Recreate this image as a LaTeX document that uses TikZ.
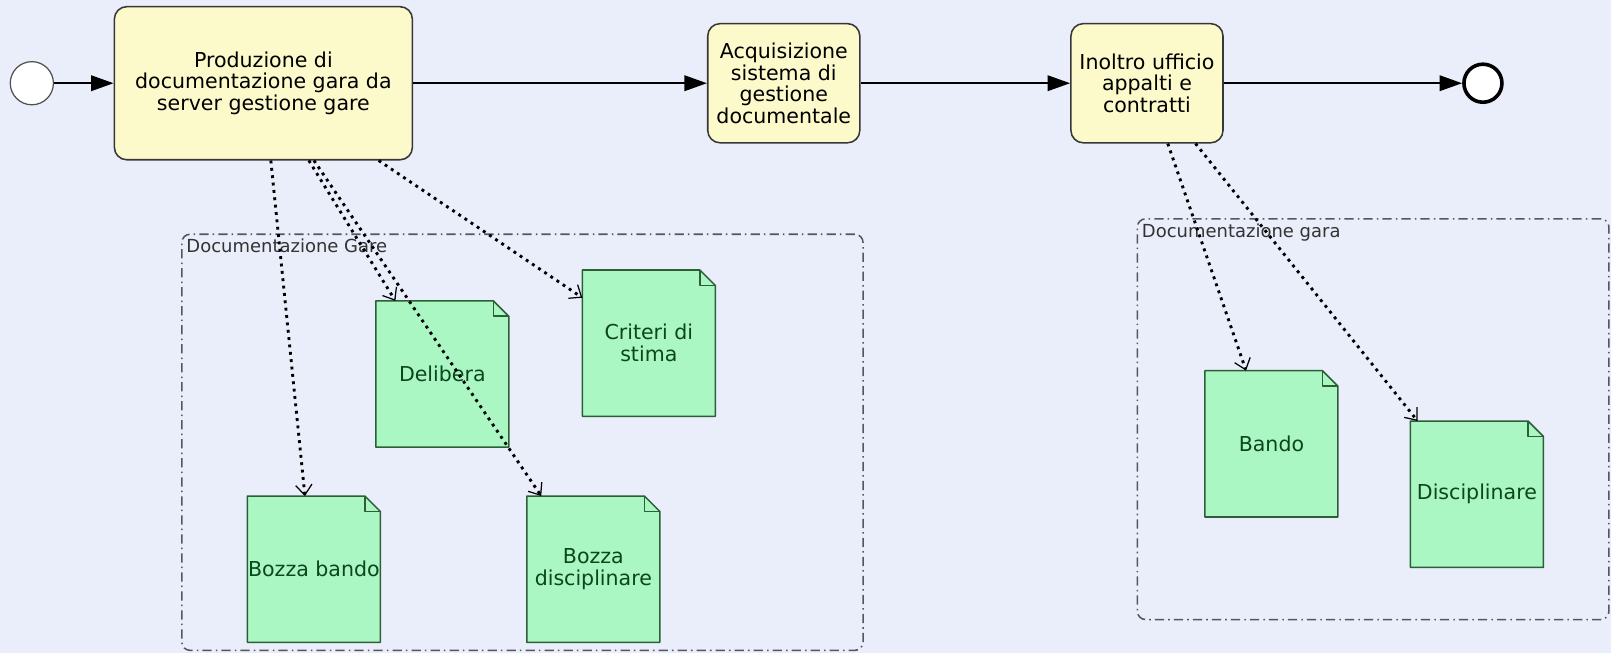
\documentclass[tikz,border=0pt]{standalone}
\usepackage{fontspec}
\setmainfont{DejaVu Sans}
\usepackage{tikz}
\usetikzlibrary{arrows.meta,positioning,backgrounds}

\definecolor{bgcol}{RGB}{233,238,250}
\definecolor{taskfill}{RGB}{252,250,202}
\definecolor{taskline}{RGB}{55,55,55}
\definecolor{docfill}{RGB}{170,247,196}
\definecolor{docline}{RGB}{45,95,55}
\definecolor{doctext}{RGB}{12,70,28}
\definecolor{groupline}{RGB}{85,85,95}
\definecolor{evline}{RGB}{80,80,80}

\newcommand{\taskfont}{\fontsize{20}{21}\selectfont}
\newcommand{\docfont}{\fontsize{20}{21.5}\selectfont}
\newcommand{\groupfont}{\fontsize{17.5}{19}\selectfont}

\begin{document}
\begin{tikzpicture}[x=1pt,
            y=-1pt,
            >={Triangle[length=22pt,width=15pt]},
            node distance=58pt,
            flow/.style={->, line width=2.3pt, draw=black},
            assoc/.style={-{Straight Barb[length=10pt,width=16pt,line width=1.2pt]},
                          line width=2.8pt, dash pattern=on 2.8pt off 4.4pt, draw=black},
            event/.style={circle, draw=evline, line width=1.2pt, fill=white,
                          minimum size=42pt, inner sep=0pt},
            endevent/.style={event, draw=black, line width=3.5pt, minimum size=37pt},
            task/.style={rectangle, rounded corners=12pt, draw=taskline, line width=1.5pt,
                         fill=taskfill, align=center, font=\taskfont, inner sep=0pt,
                         minimum width=148pt, minimum height=116pt},
            doc/.style={minimum width=129pt, minimum height=142pt, inner sep=0pt,
                        align=center, text=doctext, font=\docfont},
            docshape/.style={draw=docline, fill=docfill, line width=1.5pt, line join=round},
            group/.style={draw=groupline, line width=1.5pt, rounded corners=8pt,
                          dash pattern=on 9pt off 4pt on 1.5pt off 4pt, inner sep=0pt},
            grouplabel/.style={anchor=north west, inner sep=1pt, text=black!80, font=\groupfont}]

        \useasboundingbox (0,0) rectangle (1568,636);

        % process flow
        \node[event]                        (start) at (31,81)        {};
        \node[task, minimum width=290pt,
              minimum height=149pt]         (prod)  [right=58pt of start]
              {Produzione di\\documentazione gara da\\server gestione gare};
        \node[task]                         (acq)   [right=286pt of prod]
              {Acquisizione\\sistema di\\gestione\\documentale};
        \node[task]                         (inol)  [right=204pt of acq]
              {Inoltro ufficio\\appalti e\\contratti};
        \node[endevent]                     (end)   [right=232pt of inol] {};

        % groups
        \node[group, minimum width=663pt, minimum height=405pt] (gare)  at (508.5,430.5) {};
        \node[grouplabel] (garelbl)  at ([xshift=4pt,yshift=-4pt]gare.north west)  {Documentazione Gare};
        \node[group, minimum width=459pt, minimum height=390pt] (gara)  at (1336.5,408) {};
        \node[grouplabel] (garalbl)  at ([xshift=4pt,yshift=-4pt]gara.north west)  {Documentazione gara};

        % documents
        \node[doc] (delibera)     at (430.5,364)  {Delibera};
        \node[doc] (criteri)      at (631.5,334)  {Criteri di\\stima};
        \node[doc] (bozzabando)   at (305.5,554)  {Bozza bando};
        \node[doc] (bozzadisc)    at (577.5,554)  {Bozza\\disciplinare};
        \node[doc] (bando)        at (1237.5,432) {Bando};
        \node[doc] (disciplinare) at (1437.5,481) {Disciplinare};

        \begin{scope}[on background layer]
            \fill[bgcol] (0,0) rectangle (1568,636);
            \foreach \d in {delibera,criteri,bozzabando,bozzadisc,bando,disciplinare} {
                \filldraw[docshape] (\d.north west) -- ([xshift=-15pt]\d.north east)
                    -- ([yshift=-15pt]\d.north east) -- (\d.south east) -- (\d.south west) -- cycle;
                \draw[docshape, fill=none] ([xshift=-15pt]\d.north east)
                    -- ([xshift=-15pt,yshift=-15pt]\d.north east) -- ([yshift=-15pt]\d.north east);
            }
        \end{scope}

        \path (start) edge[flow] (prod)
              (prod)  edge[flow] (acq)
              (acq)   edge[flow] (inol)
              (inol)  edge[flow] (end);

        % data associations
        \path ([xshift=153pt]prod.south west) edge[assoc] ([xshift=56pt]bozzabando.north west)
              ([xshift=190pt]prod.south west) edge[assoc] ([xshift=19pt]delibera.north west)
              ([xshift=195pt]prod.south west) edge[assoc] ([xshift=14pt]bozzadisc.north west)
              ([xshift=258pt]prod.south west) edge[assoc] ([yshift=-27pt]criteri.north west)
              ([xshift=95pt]inol.south west)  edge[assoc] ([xshift=40pt]bando.north west)
              ([xshift=122pt]inol.south west) edge[assoc] ([xshift=7pt]disciplinare.north west);

\end{tikzpicture}
\end{document}
